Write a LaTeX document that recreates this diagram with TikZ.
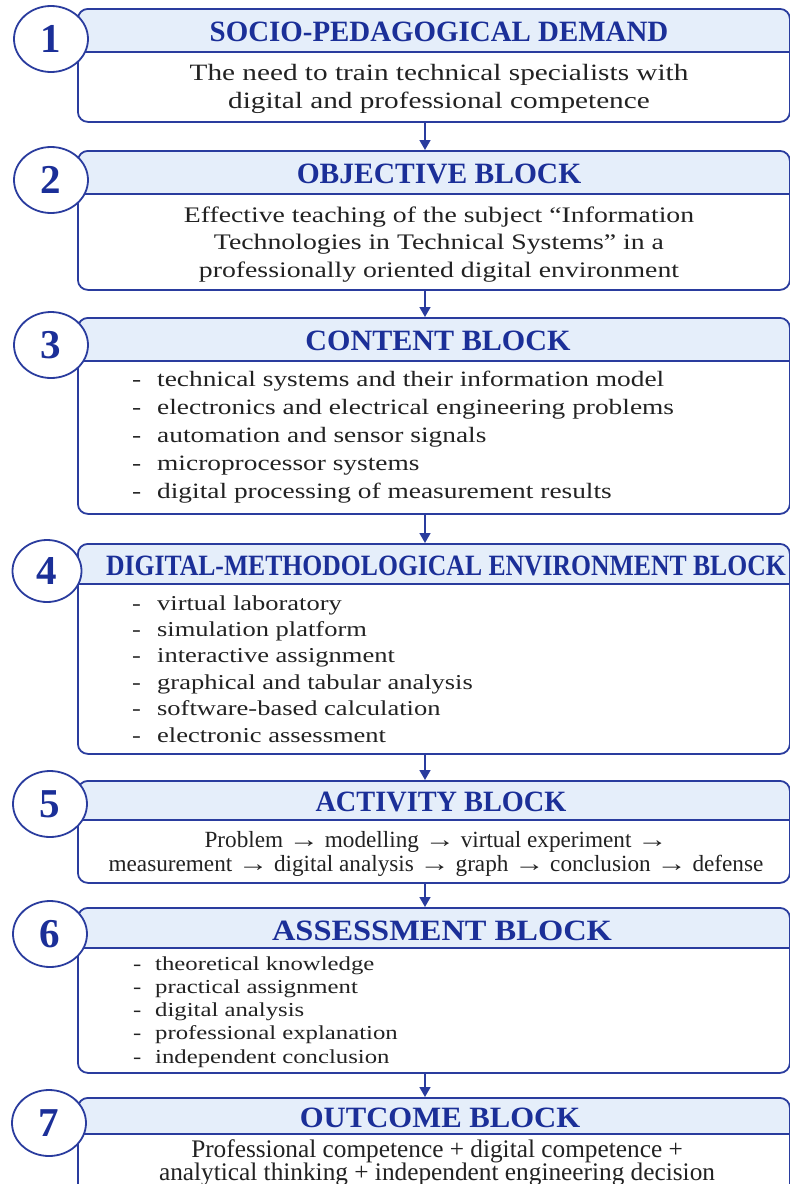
\documentclass[tikz,border=0pt]{standalone}
\usepackage{fontspec}
\usepackage{graphicx}
\setmainfont{Liberation Serif}
\newfontfamily\wideserif[FakeStretch=1.25]{Liberation Serif}
\usetikzlibrary{arrows.meta,shapes.geometric}

\definecolor{edge}{HTML}{2A3C9E}
\definecolor{headfill}{HTML}{E5EEFA}
\definecolor{titleblue}{HTML}{1B2F98}
\definecolor{ink}{HTML}{222222}

% a slightly longer right arrow for the activity chain
\newcommand{\stepto}{\scalebox{1.3}[1]{→}}

\tikzset{
  blk/.style 2 args={draw=edge, line width=1.8pt, rounded corners=10pt, fill=white,
    anchor=north west, inner sep=0pt, minimum width=712pt, minimum height=#1,
    path picture={
      \fill[headfill, sharp corners] (path picture bounding box.north west)
        rectangle ([yshift=-#2]path picture bounding box.north east);
      \draw[edge, line width=1.3pt, sharp corners]
        ([yshift=-#2]path picture bounding box.north west)
        -- ([yshift=-#2]path picture bounding box.north east);}},
  numbadge/.style={ellipse, draw=edge, line width=1.8pt, fill=white,
    minimum width=74pt, minimum height=66pt, inner sep=0pt, text=titleblue,
    font=\bfseries\fontsize{41}{41}\selectfont},
  blocktitle/.style={text=titleblue, anchor=base, inner sep=0pt,
    font=\bfseries\fontsize{29.5}{30}\selectfont},
  wideline/.style={text=ink, anchor=base, inner sep=0pt,
    font=\wideserif\fontsize{#1}{#1}\selectfont},
  plainline/.style={text=ink, anchor=base, inner sep=0pt,
    font=\fontsize{#1}{#1}\selectfont},
  listline/.style={text=ink, anchor=base west, inner sep=0pt,
    font=\wideserif\fontsize{#1}{#1}\selectfont},
  flow/.style={draw=edge, line width=1.6pt, -{Triangle[width=11pt,length=10pt]}}
}

\begin{document}
\begin{tikzpicture}[x=1pt, y=-1pt]
\useasboundingbox (0,0) rectangle (790,1184);
\clip (0,0) rectangle (790,1184);

% block frames with tinted headers
\node[blk={113pt}{43pt}] (b1) at (77,8) {};
\node[blk={139pt}{43pt}] (b2) at (77,150) {};
\node[blk={196pt}{43pt}] (b3) at (77,317) {};
\node[blk={210pt}{40pt}] (b4) at (77,543) {};
\node[blk={102pt}{39pt}] (b5) at (77,780) {};
\node[blk={165pt}{40pt}] (b6) at (77,907) {};
\node[blk={110pt}{36pt}] (b7) at (77,1097) {};

% numbered badges
\node[numbadge] (n1) at (51,39) {1};
\node[numbadge] (n2) at (51,180) {2};
\node[numbadge] (n3) at (51,345) {3};
\node[numbadge, minimum width=69pt, minimum height=62pt] (n4) at (47,571) {4};
\node[numbadge] (n5) at (50,804) {5};
\node[numbadge] (n6) at (50,934) {6};
\node[numbadge] (n7) at (49,1123) {7};

% block titles
\node[blocktitle] (t1) at (439,41) {\scalebox{0.98}[1]{SOCIO-PEDAGOGICAL DEMAND}};
\node[blocktitle] (t2) at (439,183) {\scalebox{1.0}[1]{OBJECTIVE BLOCK}};
\node[blocktitle] (t3) at (438,350) {\scalebox{1.02}[1]{CONTENT BLOCK}};
\node[blocktitle] (t4) at (446,575) {\scalebox{0.87}[1]{DIGITAL-METHODOLOGICAL ENVIRONMENT BLOCK}};
\node[blocktitle] (t5) at (441,811) {\scalebox{0.96}[1]{ACTIVITY BLOCK}};
\node[blocktitle] (t6) at (442,940) {\scalebox{1.10}[1]{ASSESSMENT BLOCK}};
\node[blocktitle] (t7) at (440,1127) {\scalebox{1.04}[1]{OUTCOME BLOCK}};

% block 1 text
\foreach \txt [count=\i] in {The need to train technical specialists with,
  digital and professional competence}
  \node[wideline=23.4] (d1-\i) at (439,{80+28*(\i-1)}) {\txt};

% block 2 text
\foreach \txt [count=\i] in {Effective teaching of the subject “Information,
  Technologies in Technical Systems” in a,
  professionally oriented digital environment}
  \node[wideline=22.2] (d2-\i) at (439,{222+27.5*(\i-1)}) {\txt};

% block 3 list
\foreach \txt [count=\i] in {technical systems and their information model,
  electronics and electrical engineering problems,
  automation and sensor signals,
  microprocessor systems,
  digital processing of measurement results}
  \node[listline=21.9] (d3-\i) at (132,{386+28*(\i-1)}) {\makebox[25pt][l]{-}\txt};

% block 4 list
\foreach \txt [count=\i] in {virtual laboratory,
  simulation platform,
  interactive assignment,
  graphical and tabular analysis,
  software-based calculation,
  electronic assessment}
  \node[listline=21.2] (d4-\i) at (132,{610+26.4*(\i-1)}) {\makebox[25pt][l]{-}\txt};

% block 5 text
\node[plainline=23.2] (d5-1) at (436,847) {Problem \stepto{} modelling \stepto{} virtual experiment \stepto};
\node[plainline=23.2] (d5-2) at (436,871) {measurement \stepto{} digital analysis \stepto{} graph \stepto{} conclusion \stepto{} defense};

% block 6 list
\foreach \txt [count=\i] in {theoretical knowledge,
  practical assignment,
  digital analysis,
  professional explanation,
  independent conclusion}
  \node[listline=19.8] (d6-\i) at (133,{970+23.3*(\i-1)}) {\makebox[22pt][l]{-}\txt};

% block 7 text
\node[plainline=25.3] (d7-1) at (437,1157) {Professional competence + digital competence +};
\node[plainline=25.3] (d7-2) at (437,1180) {analytical thinking + independent engineering decision};

% connectors between consecutive blocks
\coordinate (ax) at (425,0);
\draw[flow] (b1.south -| ax) -- (b2.north -| ax);
\draw[flow] (b2.south -| ax) -- (b3.north -| ax);
\draw[flow] (b3.south -| ax) -- (b4.north -| ax);
\draw[flow] (b4.south -| ax) -- (b5.north -| ax);
\draw[flow] (b5.south -| ax) -- (b6.north -| ax);
\draw[flow] (b6.south -| ax) -- (b7.north -| ax);
\end{tikzpicture}
\end{document}
